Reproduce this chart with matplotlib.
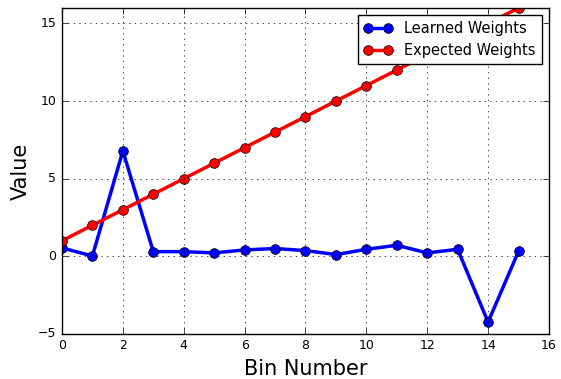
import numpy as np
import matplotlib
matplotlib.use('Agg')
import matplotlib.pyplot as plt

plt.style.use('classic')

# bin indices and weights
bins = np.arange(16)
learned = [0.54, 0.02, 6.79, 0.3, 0.3, 0.22, 0.41, 0.5, 0.37, 0.11, 0.45, 0.71, 0.22, 0.45, -4.24, 0.32]
expected = [1, 2, 3, 4, 5, 6, 7, 8, 9, 10, 11, 12, 13, 14, 15, 16]

fig = plt.figure(figsize=(5.61, 3.79), dpi=100, facecolor='white')
ax = fig.add_axes([0.1105, 0.119, 0.868, 0.86])

ax.plot(bins, learned, 'b-o', lw=2.5, ms=7, mec='k', label='Learned Weights')
ax.plot(bins, expected, 'r-o', lw=2.5, ms=7, mec='k', label='Expected Weights')

ax.set_xlim(0, 16)
ax.set_ylim(-5, 16)
ax.set_xticks(range(0, 17, 2))
ax.set_yticks([-5, 0, 5, 10, 15])
ax.tick_params(labelsize=9)
ax.grid(True)

ax.set_xlabel('Bin Number', fontsize=15)
ax.set_ylabel('Value', fontsize=15)
ax.legend(loc='upper right', fontsize=10.5, numpoints=2, borderaxespad=0.5)

fig.savefig('out.png', dpi=100, facecolor='white')
